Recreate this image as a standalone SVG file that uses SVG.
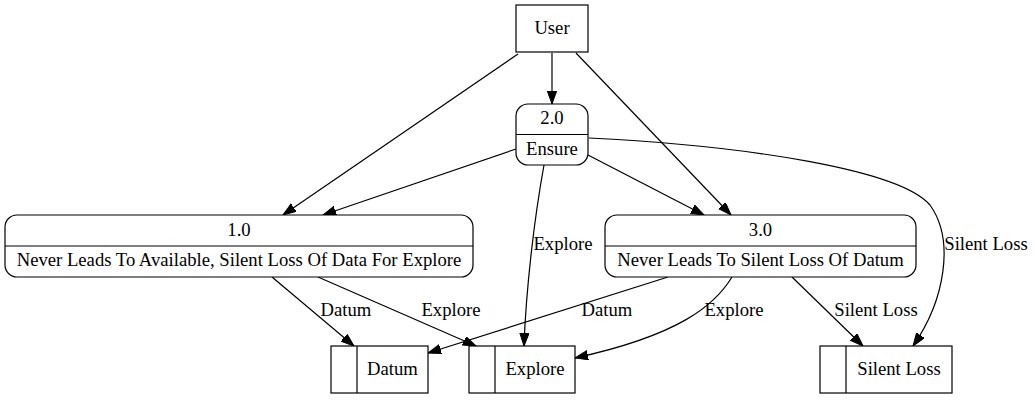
<svg xmlns="http://www.w3.org/2000/svg" width="1034" height="400" viewBox="0 0 1034 400">
<defs>
<style>
.n{fill:#fff;stroke:#000;stroke-width:1.2}
.e{fill:none;stroke:#000;stroke-width:1.2}
.t{font-family:'Liberation Serif','Times New Roman',Times,serif;font-size:18.67px;fill:#000;text-anchor:middle}
</style>
<marker id="ah" markerUnits="userSpaceOnUse" markerWidth="14" markerHeight="10" refX="13" refY="4.67" orient="auto">
<path d="M0,0 L13,4.67 L0,9.33 z" fill="#000" stroke="#000" stroke-width="1"/>
</marker>
</defs>
<rect width="1034" height="400" fill="#fff"/>
<g id="connectors">
<path class="e" marker-end="url(#ah)" d="M552,53 L552,104"/>
<path class="e" marker-end="url(#ah)" d="M518,54 L283,215"/>
<path class="e" marker-end="url(#ah)" d="M576,53 L731,215"/>
<path class="e" marker-end="url(#ah)" d="M516,149 L323,215"/>
<path class="e" marker-end="url(#ah)" d="M588,155 L704,215"/>
<path class="e" marker-end="url(#ah)" d="M544,165 C534,220 526,290 524,346"/>
<path class="e" marker-end="url(#ah)" d="M589,138 C750,146 900,170 930,205 C955,240 945,300 913,346"/>
<path class="e" marker-end="url(#ah)" d="M272,277 L354,346"/>
<path class="e" marker-end="url(#ah)" d="M318,277 L476,346"/>
<path class="e" marker-end="url(#ah)" d="M668,277 L428,353"/>
<path class="e" marker-end="url(#ah)" d="M732,277 C715,305 680,335 575,358"/>
<path class="e" marker-end="url(#ah)" d="M792,277 L863,346"/>
<text class="t" x="346" y="316">Datum</text>
<text class="t" x="451" y="316">Explore</text>
<text class="t" x="563" y="250">Explore</text>
<text class="t" x="607" y="316">Datum</text>
<text class="t" x="734" y="316">Explore</text>
<text class="t" x="876" y="316">Silent Loss</text>
<text class="t" x="986" y="250">Silent Loss</text>
</g>
<g id="user">
<rect class="n" x="516" y="5" width="72" height="47"/>
<text class="t" x="552" y="34">User</text>
</g>
<g id="p2">
<rect class="n" x="516" y="104" width="72" height="61" rx="12" ry="12"/>
<line class="e" x1="516" y1="134.5" x2="588" y2="134.5"/>
<text class="t" x="552" y="124">2.0</text>
<text class="t" x="552" y="155">Ensure</text>
</g>
<g id="p1">
<rect class="n" x="5" y="215" width="468" height="62" rx="12" ry="12"/>
<line class="e" x1="5" y1="246" x2="473" y2="246"/>
<text class="t" x="239" y="236">1.0</text>
<text class="t" x="239" y="266">Never Leads To Available, Silent Loss Of Data For Explore</text>
</g>
<g id="p3">
<rect class="n" x="605" y="215" width="311" height="62" rx="12" ry="12"/>
<line class="e" x1="605" y1="246" x2="916" y2="246"/>
<text class="t" x="760.5" y="236">3.0</text>
<text class="t" x="760.5" y="266">Never Leads To Silent Loss Of Datum</text>
</g>
<g id="ds_datum">
<rect class="n" x="331" y="346" width="97" height="47"/>
<line class="e" x1="357" y1="346" x2="357" y2="393"/>
<text class="t" x="392.5" y="375">Datum</text>
</g>
<g id="ds_explore">
<rect class="n" x="469" y="346" width="106" height="47"/>
<line class="e" x1="495" y1="346" x2="495" y2="393"/>
<text class="t" x="535" y="375">Explore</text>
</g>
<g id="ds_silent">
<rect class="n" x="820" y="346" width="132" height="47"/>
<line class="e" x1="846" y1="346" x2="846" y2="393"/>
<text class="t" x="899" y="375">Silent Loss</text>
</g>
</svg>
